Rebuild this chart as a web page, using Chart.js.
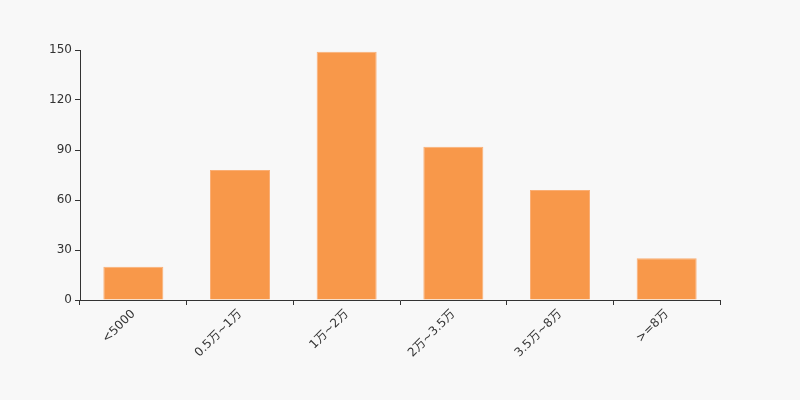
<!DOCTYPE html>
<html>
<head>
<meta charset="utf-8">
<script src="https://cdn.jsdelivr.net/npm/chart.js@4"></script>
<style>
  html, body { margin: 0; padding: 0; background: #f8f8f8; }
  #wrap { width: 800px; height: 400px; }
</style>
</head>
<body>
<div id="wrap"><canvas id="chart" width="800" height="400"></canvas></div>
<script>
const categories = ['<5000', '0.5万~1万', '1万~2万', '2万~3.5万', '3.5万~8万', '>=8万'];
const counts = [20, 78, 149, 92, 66, 25];
const yTicks = [0, 30, 60, 90, 120, 150];

const axisColor = '#333';
const font = { family: '"DejaVu Sans", "Noto Sans CJK SC", sans-serif', size: 12 };

new Chart(document.getElementById('chart'), {
  type: 'bar',
  data: {
    labels: categories,
    datasets: [{
      data: counts,
      backgroundColor: '#f8984a',
      borderColor: '#faae74',
      borderWidth: 1,
      barPercentage: 0.5625,
      categoryPercentage: 1
    }]
  },
  options: {
    responsive: false,
    animation: false,
    layout: { padding: { top: 50, right: 80, left: 0, bottom: 0 } },
    plugins: { legend: { display: false }, tooltip: { enabled: false } },
    scales: {
      x: {
        afterFit: s => { s.height = 100; },
        grid: { drawOnChartArea: false, drawTicks: true, tickLength: 5, color: axisColor },
        border: { display: true, color: axisColor, width: 1 },
        ticks: { color: axisColor, font, minRotation: 45, maxRotation: 45, padding: 2 }
      },
      y: {
        min: 0,
        max: 150,
        afterFit: s => { s.width = 80; },
        afterBuildTicks: s => { s.ticks = yTicks.map(v => ({ value: v })); },
        grid: { drawOnChartArea: false, drawTicks: true, tickLength: 5, color: axisColor },
        border: { display: true, color: axisColor, width: 1 },
        ticks: { color: axisColor, font, padding: 3 }
      }
    }
  }
});
</script>
</body>
</html>
